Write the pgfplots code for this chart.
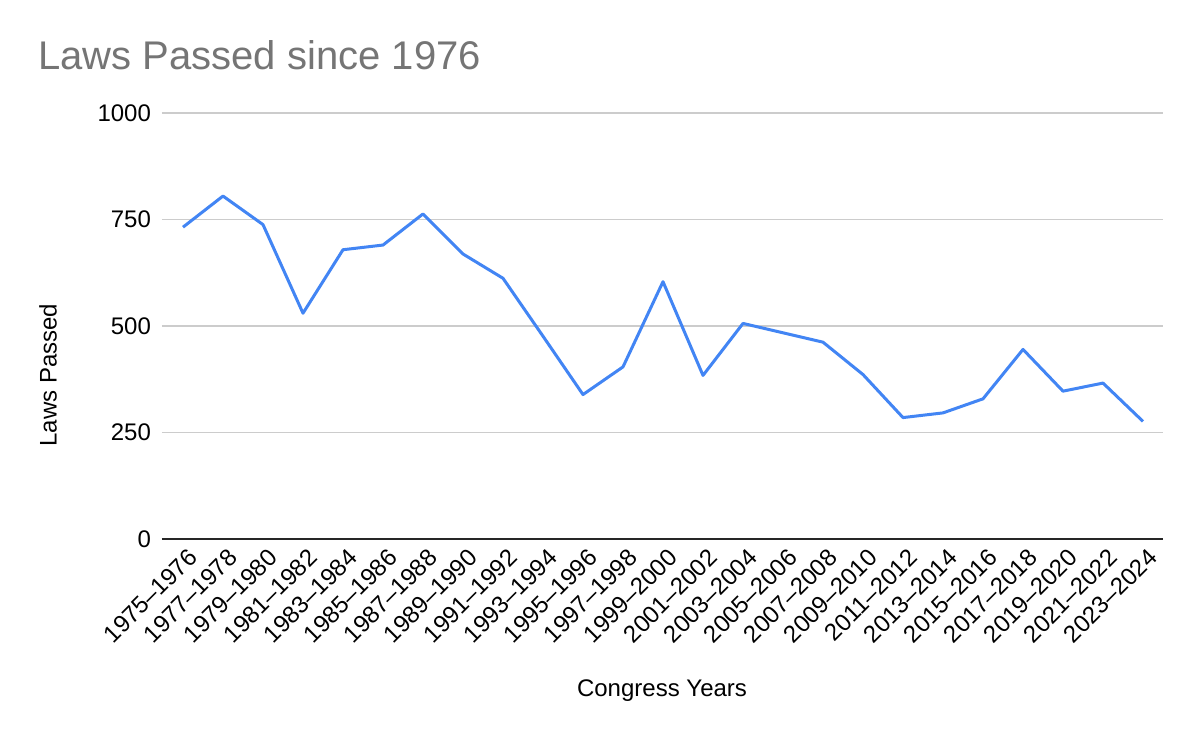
\documentclass[border=0pt]{standalone}
\usepackage{pgfplots}
\pgfplotsset{compat=1.18}
\usepackage{fontspec}
\setmainfont{Liberation Sans}
\definecolor{gblue}{HTML}{4285F4}
\definecolor{ggrid}{HTML}{CCCCCC}
\definecolor{gtitle}{HTML}{757575}
\begin{document}
\begin{tikzpicture}
\fill[white] (-81pt,-101.5pt) rectangle (519pt,269.5pt);
\path[use as bounding box] (-81pt,-101.5pt) rectangle (519pt,269.5pt);
\begin{axis}[
  at={(0,0)}, anchor=south west,
  scale only axis, width=500.5pt, height=213pt,
  xmin=-0.525, xmax=24.5, ymin=0, ymax=1000,
  ytick={0,250,500,750,1000},
  xtick={0,...,24},
  xticklabels={1975–1976,1977–1978,1979–1980,1981–1982,1983–1984,1985–1986,1987–1988,1989–1990,1991–1992,1993–1994,1995–1996,1997–1998,1999–2000,2001–2002,2003–2004,2005–2006,2007–2008,2009–2010,2011–2012,2013–2014,2015–2016,2017–2018,2019–2020,2021–2022,2023–2024},
  axis line style={draw=none},
  axis x line*=bottom, axis y line*=left,
  major tick length=0pt,
  ymajorgrids, grid style={ggrid, line width=0.6pt},
  tick label style={font=\fontsize{12}{14}\selectfont, black},
  /pgf/number format/assume math mode=true,
  /pgf/number format/1000 sep={},
  yticklabel style={xshift=-2pt},
  xticklabel style={inner sep=0pt, xshift=5pt, yshift=-7pt, rotate=45, anchor=east},
  clip=false,
]
\addplot[gblue, line width=1.5pt, line join=round] coordinates {
(0,732) (1,805) (2,738) (3,530) (4,679) (5,690) (6,763) (7,669) (8,612) (9,476)
(10,339) (11,404) (12,604) (13,384) (14,506) (15,484) (16,462) (17,386)
(18,285) (19,296) (20,329) (21,445) (22,347) (23,366) (24,276)
};
\draw[black!85, line width=0.6pt] (axis cs:-0.525,0) -- (axis cs:24.5,0);
\end{axis}
\node[anchor=west, inner sep=0pt, text=gtitle, font=\fontsize{20}{24}\selectfont] at (-62pt,242pt) {Laws Passed since 1976};
\node[rotate=90, inner sep=0pt, font=\fontsize{12}{14}\selectfont] at (-57pt,82pt) {Laws Passed};
\node[inner sep=0pt, font=\fontsize{12}{14}\selectfont] at (250pt,-76pt) {Congress Years};
\end{tikzpicture}
\end{document}
